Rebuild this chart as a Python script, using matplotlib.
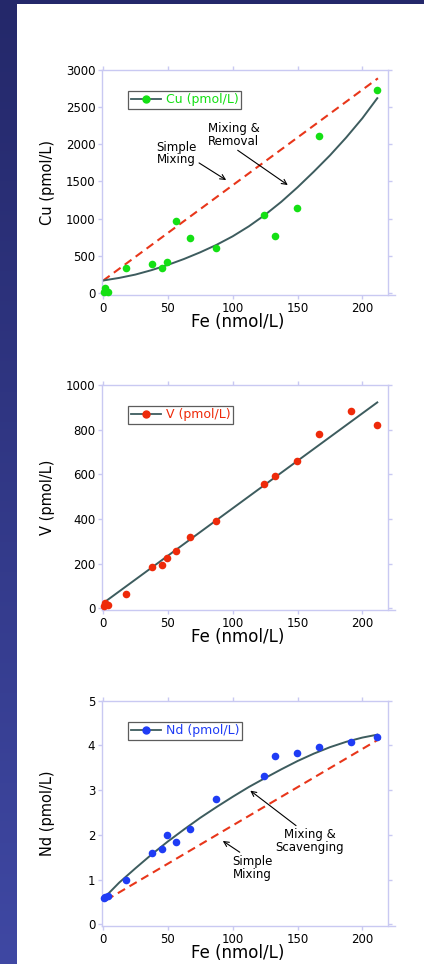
import numpy as np
import matplotlib
matplotlib.use("Agg")
import matplotlib.pyplot as plt
from matplotlib.lines import Line2D
from matplotlib.patches import Rectangle
from matplotlib.colors import LinearSegmentedColormap

plt.rcParams['font.family'] = ['DejaVu Sans']

# ---- data -------------------------------------------------------------
fe_cu = [1.2, 0.8, 3.8, 17.4, 38.1, 45.2, 49.3, 56.2, 67.4, 86.8, 123.9, 132.8, 149.7, 166.3, 211.5]
cu = [60, 15, 5, 330, 382, 328, 413, 961, 741, 602, 1051, 763, 1145, 2115, 2735]

fe = [0.5, 1.5, 3.8, 17.4, 38.1, 45.2, 49.3, 56.2, 67.4, 86.8, 123.9, 132.8, 149.7, 166.3, 191.5, 211.5]
v = [12, 22, 16, 64, 185, 194, 224, 257, 319, 390, 557, 593, 660, 781, 885, 821]
nd = [0.58, 0.60, 0.62, 1.0, 1.6, 1.68, 2.0, 1.85, 2.14, 2.79, 3.32, 3.76, 3.82, 3.96, 4.07, 4.18]

# conservative (simple mixing) lines
cu_mix_fe = [0, 212]
cu_mix = [162, 2888]
nd_mix_fe = [2.5, 214]
nd_mix = [0.54, 4.16]

# fitted trend curves
cu_fit_fe = [0, 12.5, 25, 37.5, 50, 62.5, 75, 87.5, 100, 112.5, 125, 137.5,
             150, 162.5, 175, 187.5, 200, 211.5]
cu_fit = [165, 200, 245, 305, 375, 455, 545, 645, 760, 895, 1050, 1225,
          1420, 1630, 1850, 2090, 2350, 2620]
v_fit_fe = [0, 211.5]
v_fit = [22, 922]
nd_fit_fe = [2, 12.5, 25, 37.5, 50, 62.5, 75, 87.5, 100, 112.5, 125, 137.5,
             150, 162.5, 175, 187.5, 200, 211.5]
nd_fit = [0.62, 0.93, 1.25, 1.56, 1.85, 2.12, 2.38, 2.62, 2.85, 3.07, 3.27, 3.465,
          3.65, 3.815, 3.96, 4.08, 4.175, 4.24]

cu_ticks = [0, 500, 1000, 1500, 2000, 2500, 3000]
v_ticks = [0, 200, 400, 600, 800, 1000]
nd_ticks = [0, 1, 2, 3, 4, 5]
fe_ticks = [0, 50, 100, 150, 200]

# ---- style ------------------------------------------------------------
FIT = '#3d5c5e'
MIX = '#e8361a'
SPINE = '#c9c9f2'
GREEN = '#14e014'
RED = '#ee2a0a'
BLUE = '#1f3cf5'

W, H = 424, 964
fig = plt.figure(figsize=(W / 100, H / 100), dpi=100)

# slide decoration: gradient strip on the left, bar along the top
strip = fig.add_axes([0, 0, 17 / W, 1])
cmap = LinearSegmentedColormap.from_list('strip', ['#24286a', '#3f48a3'])
strip.imshow(np.linspace(0, 1, 256).reshape(-1, 1), aspect='auto', cmap=cmap,
             extent=[0, 1, 0, 1], origin='upper')
strip.set_axis_off()
fig.patches.append(Rectangle((0, 1 - 4 / H), 1, 4 / H, transform=fig.transFigure,
                             facecolor='#24286a', edgecolor='none', zorder=5))


def panel(bottom_px, top_px):
    left, right = 102.3, 388.3
    ax = fig.add_axes([left / W, 1 - bottom_px / H, (right - left) / W, (bottom_px - top_px) / H])
    for s in ax.spines.values():
        s.set_color(SPINE)
        s.set_linewidth(1.0)
    ax.tick_params(direction='out', length=3, width=1.0, color=SPINE, labelsize=8.5,
                   top=True, right=True, pad=2)
    ax.set_xlim(-0.5, 220)
    ax.set_xticks(fe_ticks)
    # the bottom axis line runs a little past the right frame edge
    ax.spines['bottom'].set_bounds(-0.5, 225.5)
    ax.set_xlabel('Fe (nmol/L)', fontsize=12)
    ax.xaxis.set_label_coords(0.475, -0.08)
    return ax


def legend(ax, color, label):
    h = Line2D([], [], color=FIT, lw=1.3, marker='o', markersize=5,
               markerfacecolor=color, markeredgecolor=color)
    leg = ax.legend([h], [label], loc='upper left', bbox_to_anchor=(0.09, 0.907),
                    fontsize=9, frameon=True, fancybox=False, borderpad=0.2,
                    handlelength=2.4, handletextpad=0.45, borderaxespad=0,
                    labelcolor=color)
    leg.get_frame().set_edgecolor('#333333')
    leg.get_frame().set_linewidth(0.9)


arrow = dict(arrowstyle='->', color='black', lw=0.8, shrinkA=0, shrinkB=0, mutation_scale=9)
dash = (0, (4, 2.5))

# ---- Cu ---------------------------------------------------------------
ax1 = panel(295, 70)
ax1.plot(cu_mix_fe, cu_mix, color=MIX, lw=1.5, ls=dash)
ax1.plot(cu_fit_fe, cu_fit, color=FIT, lw=1.4)
ax1.scatter(fe_cu, cu, s=30, color=GREEN, zorder=3, clip_on=False, linewidths=0)
ax1.set_ylim(-30, 3000)
ax1.set_yticks(cu_ticks)
ax1.set_ylabel('Cu (pmol/L)', fontsize=10.5)
ax1.yaxis.set_label_coords(-0.165, 0.5)
legend(ax1, GREEN, 'Cu (pmol/L)')
ax1.annotate('Simple\nMixing', xy=(95, 1518), xytext=(56.4, 1875), ha='center', va='center',
             fontsize=8.5, linespacing=0.95, arrowprops=dict(arrow, relpos=(1.0, 0.2)))
ax1.annotate('Mixing &\nRemoval', xy=(142.5, 1451), xytext=(100.8, 2128), ha='center', va='center',
             fontsize=8.5, linespacing=0.95, arrowprops=dict(arrow, relpos=(0.5, 0.0)))

# ---- V ----------------------------------------------------------------
ax2 = panel(610, 385)
ax2.plot(v_fit_fe, v_fit, color=FIT, lw=1.4)
ax2.scatter(fe, v, s=30, color=RED, zorder=3, clip_on=False, linewidths=0)
ax2.set_ylim(-8, 1000)
ax2.set_yticks(v_ticks)
ax2.set_ylabel('V (pmol/L)', fontsize=10.5)
ax2.yaxis.set_label_coords(-0.165, 0.5)
legend(ax2, RED, 'V (pmol/L)')

# ---- Nd ---------------------------------------------------------------
ax3 = panel(926, 700.7)
ax3.plot(nd_mix_fe, nd_mix, color=MIX, lw=1.5, ls=dash)
ax3.plot(nd_fit_fe, nd_fit, color=FIT, lw=1.4)
ax3.scatter(fe, nd, s=30, color=BLUE, zorder=3, clip_on=False, linewidths=0)
ax3.set_ylim(-0.04, 5)
ax3.set_yticks(nd_ticks)
ax3.set_ylabel('Nd (pmol/L)', fontsize=10.5)
ax3.yaxis.set_label_coords(-0.165, 0.5)
legend(ax3, BLUE, 'Nd (pmol/L)')
ax3.annotate('Mixing &\nScavenging', xy=(113.6, 2.988), xytext=(159.6, 1.858), ha='center', va='center',
             fontsize=8.5, linespacing=0.95, arrowprops=dict(arrow, relpos=(0.35, 1.0)))
ax3.annotate('Simple\nMixing', xy=(92.4, 1.863), xytext=(114.9, 1.263), ha='center', va='center',
             fontsize=8.5, linespacing=0.95, arrowprops=dict(arrow, relpos=(0.3, 1.0)))

fig.savefig('out.png', dpi=100, facecolor='white')
